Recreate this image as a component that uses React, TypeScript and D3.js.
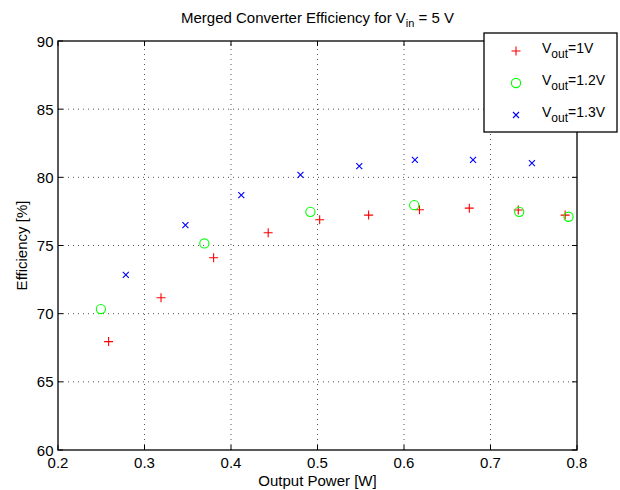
import React from 'react';
import * as d3 from 'd3';

const width = 620;
const height = 490;
const margin = { top: 41, right: 43, bottom: 40, left: 58 };

// Vout = 1 V
const power1V = [0.2585, 0.3191, 0.3799, 0.443, 0.5025, 0.5591, 0.6179, 0.6755, 0.7321, 0.7863];
const eff1V = [67.95, 71.17, 74.1, 75.93, 76.89, 77.23, 77.62, 77.74, 77.6, 77.23];

// Vout = 1.2 V
const power12V = [0.2496, 0.3692, 0.4918, 0.6118, 0.7332, 0.7902];
const eff12V = [70.34, 75.15, 77.47, 77.96, 77.47, 77.11];

// Vout = 1.3 V
const power13V = [0.2784, 0.3473, 0.4119, 0.4803, 0.5483, 0.6126, 0.6798, 0.7479];
const eff13V = [72.84, 76.5, 78.7, 80.18, 80.82, 81.28, 81.28, 81.04];

const xTicks = [0.2, 0.3, 0.4, 0.5, 0.6, 0.7, 0.8];
const yTicks = [60, 65, 70, 75, 80, 85, 90];

const series = [
  { name: '1V', xs: power1V, ys: eff1V, color: '#ff0000', marker: 'plus' },
  { name: '1.2V', xs: power12V, ys: eff12V, color: '#00ff00', marker: 'circle' },
  { name: '1.3V', xs: power13V, ys: eff13V, color: '#0000ff', marker: 'x' }
];

const font = '"Liberation Sans", Arial, Helvetica, sans-serif';

function Marker({ type, x, y, color }: { type: string; x: number; y: number; color: string }) {
  if (type === 'plus') {
    return (
      <path
        d={`M${x - 4.5},${y}H${x + 4.5}M${x},${y - 4.5}V${y + 4.5}`}
        stroke={color}
        strokeWidth={1.1}
        fill="none"
      />
    );
  }
  if (type === 'circle') {
    return <circle cx={x} cy={y} r={4.6} stroke={color} strokeWidth={1.1} fill="none" />;
  }
  return (
    <path
      d={`M${x - 3},${y - 3}L${x + 3},${y + 3}M${x - 3},${y + 3}L${x + 3},${y - 3}`}
      stroke={color}
      strokeWidth={1.1}
      fill="none"
    />
  );
}

export default function App() {
  const x = d3
    .scaleLinear()
    .domain([0.2, 0.8])
    .range([margin.left, width - margin.right]);
  const y = d3
    .scaleLinear()
    .domain([60, 90])
    .range([height - margin.bottom, margin.top]);

  const [x0, x1] = x.range();
  const [y0, y1] = y.range();
  const tickLen = 5;

  const legend = { x: 484, y: 33, w: 133, h: 99 };

  return (
    <svg
      width={width}
      height={height}
      style={{ position: 'absolute', left: 0, top: 0, background: 'white', fontFamily: font }}
    >
      {/* grid */}
      {xTicks.slice(1, -1).map((t) => (
        <line
          key={'gx' + t}
          x1={x(t)}
          x2={x(t)}
          y1={y0}
          y2={y1}
          stroke="#555"
          strokeWidth={1}
          strokeDasharray="1 4"
        />
      ))}
      {yTicks.slice(1, -1).map((t) => (
        <line
          key={'gy' + t}
          x1={x0}
          x2={x1}
          y1={y(t)}
          y2={y(t)}
          stroke="#555"
          strokeWidth={1}
          strokeDasharray="1 4"
        />
      ))}

      {/* ticks */}
      {xTicks.map((t) => (
        <g key={'tx' + t}>
          <line x1={x(t)} x2={x(t)} y1={y0} y2={y0 - tickLen} stroke="#000" />
          <line x1={x(t)} x2={x(t)} y1={y1} y2={y1 + tickLen} stroke="#000" />
          <text x={x(t)} y={y0 + 18} fontSize={15} textAnchor="middle" fill="#000">
            {t.toFixed(1)}
          </text>
        </g>
      ))}
      {yTicks.map((t) => (
        <g key={'ty' + t}>
          <line x1={x0} x2={x0 + tickLen} y1={y(t)} y2={y(t)} stroke="#000" />
          <line x1={x1} x2={x1 - tickLen} y1={y(t)} y2={y(t)} stroke="#000" />
          <text x={x0 - 4.5} y={y(t) + 5.5} fontSize={15} textAnchor="end" fill="#000">
            {t}
          </text>
        </g>
      ))}

      {/* frame */}
      <rect x={x0} y={y1} width={x1 - x0} height={y0 - y1} fill="none" stroke="#000" strokeWidth={1.3} />

      {/* points */}
      {series.map((s) =>
        s.xs.map((v, i) => (
          <Marker key={s.name + i} type={s.marker} x={x(v)} y={y(s.ys[i])} color={s.color} />
        ))
      )}

      {/* legend */}
      <rect
        x={legend.x}
        y={legend.y}
        width={legend.w}
        height={legend.h}
        fill="white"
        stroke="#000"
        strokeWidth={1.3}
      />
      {series.map((s, i) => {
        const ly = legend.y + 18 + i * 32;
        return (
          <g key={'lg' + s.name}>
            <Marker type={s.marker} x={legend.x + 32} y={ly} color={s.color} />
            <text x={legend.x + 58} y={ly + 2} fontSize={14} fill="#000">
              V
              <tspan dy={5} fontSize={12}>
                out
              </tspan>
              <tspan dy={-5}>={s.name}</tspan>
            </text>
          </g>
        );
      })}

      {/* titles */}
      <text x={(x0 + x1) / 2} y={23} fontSize={15} textAnchor="middle" fill="#000">
        Merged Converter Efficiency for V
        <tspan dy={4} fontSize={11}>
          in
        </tspan>
        <tspan dy={-4}> = 5 V</tspan>
      </text>
      <text x={(x0 + x1) / 2} y={486} fontSize={15} textAnchor="middle" fill="#000">
        Output Power [W]
      </text>
      <text
        transform={`translate(27, ${(y0 + y1) / 2}) rotate(-90)`}
        fontSize={15}
        textAnchor="middle"
        fill="#000"
      >
        Efficiency [%]
      </text>
    </svg>
  );
}
